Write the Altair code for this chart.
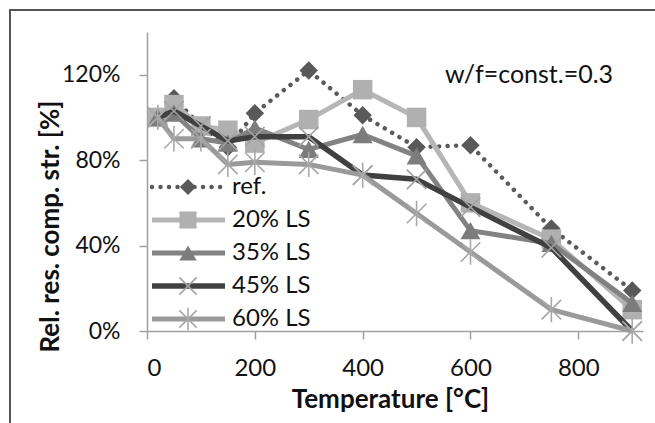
import altair as alt
import pandas as pd

# ---- data ----
temps = [20, 50, 100, 150, 200, 300, 400, 500, 600, 750, 900]
series_names = ["ref.", "20% LS", "35% LS", "45% LS", "60% LS"]
ref_vals = [100, 109, 96, 86, 102, 122, 101, 86, 87, 48, 19]
ls20_vals = [100, 106, 96, 94, 88, 99, 113, 100, 60, 43, 10]
ls35_vals = [100, 102, 90, 88, 95, 85, 92, 82, 47, 41, 13]
ls45_vals = [100, 103, 96, 89, 91, 91, 73, 71, 58, 39, 0]
ls60_vals = [100, 90, 90, 78, 79, 78, 73, 55, 37, 10, 0]
x_ticks = [0, 200, 400, 600, 800]
y_ticks = [0, 0.4, 0.8, 1.2]
annotation = "w/f=const.=0.3"
x_title = "Temperature [°C]"
y_title = "Rel. res. comp. str. [%]"

all_vals = [ref_vals, ls20_vals, ls35_vals, ls45_vals, ls60_vals]
rows = []
for name, vals in zip(series_names, all_vals):
    for t, v in zip(temps, vals):
        rows.append({"series": name, "temp": t, "value": v / 100.0})
df = pd.DataFrame(rows)
legend_df = pd.DataFrame({"series": series_names})

FONT = "Lato"
XPATH = "M-1,-1L1,1M-1,1L1,-1"
ASTPATH = "M-1,-1L1,1M-1,1L1,-1M0,-1.3L0,1.3"

styles = {
    "ref.": dict(line="#5a5a5a", dash=[0.01, 8.5], width=4.5, cap="round",
                 shape="diamond", mcolor="#595959", filled=True, size=340, lsize=260),
    "20% LS": dict(line="#b6b6b6", dash=None, width=5, cap="butt",
                   shape="square", mcolor="#b0b0b0", filled=True, size=380, lsize=290),
    "35% LS": dict(line="#828282", dash=None, width=5, cap="butt",
                   shape="triangle-up", mcolor="#7c7c7c", filled=True, size=400, lsize=300),
    "45% LS": dict(line="#404040", dash=None, width=5.5, cap="butt",
                   shape=XPATH, mcolor="#a3a3a3", filled=False, size=380, lsize=300),
    "60% LS": dict(line="#9a9a9a", dash=None, width=5, cap="butt",
                   shape=ASTPATH, mcolor="#a8a8a8", filled=False, size=380, lsize=300),
}

x_enc = alt.X("temp:Q", scale=alt.Scale(domain=[0, 920], nice=False, zero=False),
              axis=alt.Axis(values=x_ticks, title=x_title, labelFontSize=24,
                            labelPadding=29, labelBaseline="middle",
                            titleX=243, titleY=68, titleBaseline="middle",
                            titleFontSize=26, titleFontWeight="bold"))
y_enc = alt.Y("value:Q", scale=alt.Scale(domain=[0, 1.4], nice=False),
              axis=alt.Axis(values=y_ticks, format=".0%", title=y_title,
                            labelFontSize=23, labelPadding=19, labelBaseline="middle",
                            titleX=-97, titleY=194, titleBaseline="middle",
                            titleAngle=-90, titleFontSize=26, titleFontWeight="bold"))

base = alt.Chart(df)
data_layers = []
for name in series_names:
    st = styles[name]
    line_kwargs = dict(color=st["line"], strokeWidth=st["width"], strokeJoin="round",
                       strokeCap=st["cap"])
    if st["dash"]:
        line_kwargs["strokeDash"] = st["dash"]
    sub = base.transform_filter(alt.datum.series == name)
    line = sub.mark_line(**line_kwargs).encode(x=x_enc, y=y_enc)
    if st["filled"]:
        pt = sub.mark_point(shape=st["shape"], filled=True, color=st["mcolor"],
                            size=st["size"], opacity=1)
    else:
        pt = sub.mark_point(shape=st["shape"], filled=False, color=st["mcolor"],
                            size=st["size"], strokeWidth=1.6, opacity=1)
    data_layers += [line, pt.encode(x=x_enc, y=y_enc)]

note = alt.Chart(pd.DataFrame({"t": [annotation]})).mark_text(
    font=FONT, fontSize=25, align="center", baseline="middle", color="#111111"
).encode(x=alt.value(382), y=alt.value(43), text="t:N")

border = alt.Chart(pd.DataFrame({"b": [1]})).mark_rect(
    fill=None, stroke="#555555", strokeWidth=2
).encode(x=alt.value(-137), x2=alt.value(700), y=alt.value(-22), y2=alt.value(600))

data_part = alt.layer(border, *data_layers, note)

# ---- legend built from the series list ----
ly = alt.Y("series:N", scale=alt.Scale(type="point", domain=series_names,
                                       range=[155, 287], padding=0), axis=None)
lbase = alt.Chart(legend_df)
leg_layers = []
for name in series_names:
    st = styles[name]
    sub = lbase.transform_filter(alt.datum.series == name)
    rk = dict(color=st["line"], strokeWidth=st["width"], strokeCap=st["cap"])
    if st["dash"]:
        rk["strokeDash"] = st["dash"]
        rk["strokeCap"] = "round"
    leg_layers.append(sub.mark_rule(**rk).encode(x=alt.value(5), x2=alt.value(78), y=ly))
    if st["filled"]:
        pt = sub.mark_point(shape=st["shape"], filled=True, color=st["mcolor"],
                            size=st["lsize"], opacity=1)
    else:
        pt = sub.mark_point(shape=st["shape"], filled=False, color=st["mcolor"],
                            size=st["lsize"], strokeWidth=1.6, opacity=1)
    leg_layers.append(pt.encode(x=alt.value(41), y=ly))
leg_layers.append(lbase.mark_text(font=FONT, fontSize=24, align="left", baseline="middle",
                                  color="#111111").encode(x=alt.value(85), y=ly,
                                                          text="series:N"))
legend_part = alt.layer(*leg_layers)

chart = alt.layer(data_part, legend_part).resolve_scale(y="independent").properties(
    width=496, height=299,
    padding={"left": 147, "top": 32, "right": 12, "bottom": 92},
    autosize=alt.AutoSizeParams(type="none"),
    background="white",
).configure_view(stroke=None).configure_axis(
    labelFont=FONT, titleFont=FONT, labelColor="#111111", titleColor="#111111",
    domainColor="#a0a0a0", domainWidth=1.5, tickColor="#a0a0a0", tickWidth=1.5,
    tickSize=8, grid=False,
)

chart.save("out.html", embed_options={"renderer": "svg", "actions": False})
